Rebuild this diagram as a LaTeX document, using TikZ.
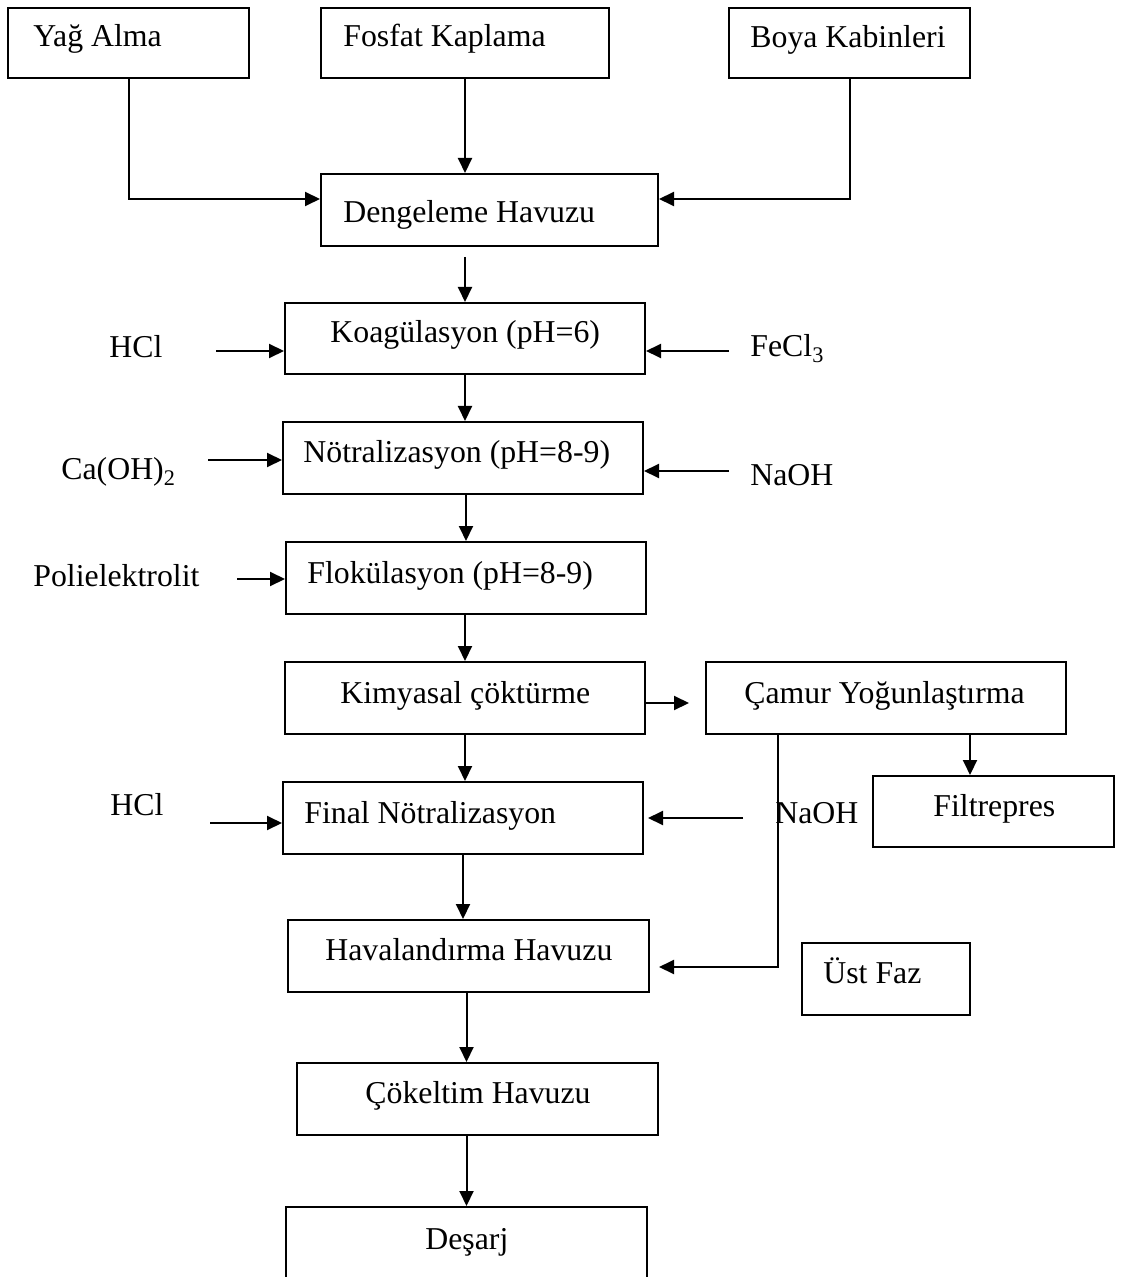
\documentclass[tikz,border=0pt]{standalone}
\usepackage{fontspec}
\setmainfont{Liberation Serif}
\usetikzlibrary{arrows.meta,calc}

\begin{document}
\begin{tikzpicture}[
  x=0.5pt, y=-0.5pt,
  box/.style={draw, line width=1pt, inner sep=0pt, minimum height=36pt},
  txt/.style={inner sep=0pt, anchor=base west, font=\fontsize{15.9}{19}\selectfont},
  arr/.style={line width=1pt, -{Triangle[length=7.5pt,width=7pt]}},
]
\useasboundingbox (0,0) rectangle (1121,1277);
\fill[white] (0,0) rectangle (1121,1277);
\clip (0,0) rectangle (1121,1277);

% process boxes
\node[box, minimum width=120.5pt, minimum height=35pt] (yag)    at (128.5,43)   {};
\node[box, minimum width=144pt,   minimum height=35pt] (fosfat) at (465,43)     {};
\node[box, minimum width=120.5pt, minimum height=35pt] (boya)   at (849.5,43)   {};
\node[box, minimum width=168.5pt] (deng)   at (489.5,210)  {};
\node[box, minimum width=180pt, minimum height=35.5pt] (koag) at (465,338.5) {};
\node[box, minimum width=180pt]   (notr)   at (463,458)    {};
\node[box, minimum width=180pt]   (flok)   at (466,578)    {};
\node[box, minimum width=180pt]   (kimya)  at (465,698)    {};
\node[box, minimum width=180pt]   (camur)  at (886,698)    {};
\node[box, minimum width=120.5pt, minimum height=35.5pt] (filtre) at (993.5,811.5) {};
\node[box, minimum width=180pt]   (final)  at (463,818)    {};
\node[box, minimum width=84pt]    (ustfaz) at (886,979)    {};
\node[box, minimum width=180.5pt] (haval)  at (468.5,956)  {};
\node[box, minimum width=180.5pt] (cokel)  at (477.5,1099) {};
\node[box, minimum width=180.5pt, minimum height=46.5pt] (desarj) at (466.5,1253.5) {};

% box texts
\node[txt] (yag-t)    at (33,47)    {Yağ Alma};
\node[txt] (fosfat-t) at (343,47)   {Fosfat Kaplama};
\node[txt] (boya-t)   at (750,48)   {Boya Kabinleri};
\node[txt] (deng-t)   at (343,223)  {Dengeleme Havuzu};
\node[txt] (koag-t)   at (330,343)  {Koagülasyon (pH=6)};
\node[txt] (notr-t)   at (303,463)  {Nötralizasyon (pH=8-9)};
\node[txt] (flok-t)   at (307,583)  {Flokülasyon (pH=8-9)};
\node[txt] (kimya-t)  at (340,703)  {Kimyasal çöktürme};
\node[txt] (camur-t)  at (744,703)  {Çamur Yoğunlaştırma};
\node[txt] (filtre-t) at (933,816)  {Filtrepres};
\node[txt] (final-t)  at (304,823)  {Final Nötralizasyon};
\node[txt] (haval-t)  at (325,960)  {Havalandırma Havuzu};
\node[txt] (ustfaz-t) at (823,983)  {Üst Faz};
\node[txt] (cokel-t)  at (365,1103) {Çökeltim Havuzu};
\node[txt] (desarj-t) at (425,1249) {Deşarj};

% chemical dosing labels
\node[txt] (hcl1)  at (109,358) {HCl};
\node[txt] (fecl)  at (750,357) {FeCl\textsubscript{3}};
\node[txt] (caoh)  at (61,480)  {Ca(OH)\textsubscript{2}};
\node[txt] (naoh1) at (750,486) {NaOH};
\node[txt] (poli)  at (33,586)  {Polielektrolit};
\node[txt] (hcl2)  at (110,815) {HCl};
\node[txt] (naoh2) at (775,823) {NaOH};

% dosing arrow start points
\coordinate (hcl1-s)  at (216,351);
\coordinate (fecl-s)  at (729,351);
\coordinate (caoh-s)  at (208,460);
\coordinate (naoh1-s) at (729,471);
\coordinate (poli-s)  at (237,579);
\coordinate (hcl2-s)  at (210,823);
\coordinate (naoh2-s) at (743,818);

% inflows to the equalisation basin
\draw[arr] (yag.south) |- ($(deng.west)+(0,-11)$);
\draw[arr] (fosfat.south) -- (fosfat.south |- deng.north);
\draw[arr] (boya.south) |- ($(deng.east)+(0,-11)$);

% main treatment line
\draw[arr] ($(koag.north |- deng.south)+(0,10)$) -- (koag.north);
\draw[arr] (koag.south) -- (koag.south |- notr.north);
\draw[arr] (flok.north |- notr.south) -- (flok.north);
\draw[arr] (kimya.north |- flok.south) -- (kimya.north);
\draw[arr] (kimya.south) -- (kimya.south |- final.north);
\draw[arr] (final.south) -- (final.south |- haval.north);
\draw[arr] (desarj.north |- haval.south) -- (desarj.north |- cokel.north);
\draw[arr] (desarj.north |- cokel.south) -- (desarj.north);

% chemical dosing
\draw[arr] (hcl1-s) -- (hcl1-s -| koag.west);
\draw[arr] (fecl-s) -- (fecl-s -| koag.east);
\draw[arr] (caoh-s) -- (caoh-s -| notr.west);
\draw[arr] (naoh1-s) -- (naoh1-s -| notr.east);
\draw[arr] (poli-s) -- (poli-s -| flok.west);
\draw[arr] (hcl2-s) -- (hcl2-s -| final.west);
\draw[arr] (naoh2-s) -- ($(final.east)+(4,0)$);

% sludge line
\draw[arr] ($(kimya.east)+(-2,5)$) -- ($(camur.west)+(-16,5)$);
\draw[arr] ($(camur.south)+(84,0)$) -- ($(filtre.north)+(-23.5,0)$);
\draw[arr] ($(camur.south)+(-108,0)$) |- ($(haval.east)+(9,11)$);
\end{tikzpicture}
\end{document}
